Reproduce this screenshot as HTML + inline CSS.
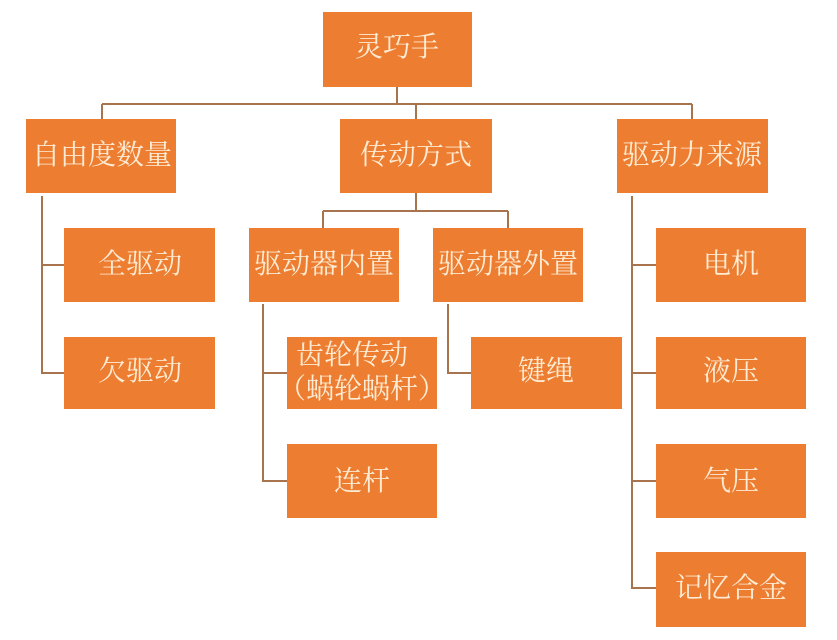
<!DOCTYPE html>
<html>
<head>
<meta charset="utf-8">
<style>
html,body{margin:0;padding:0;background:#fff;}
svg{display:block;}
text{font-family:"Liberation Serif","Noto Serif CJK SC","Noto Sans CJK SC",serif;font-size:28px;fill:#FDEBD3;text-anchor:middle;}
</style>
</head>
<body>
<svg width="837" height="640" viewBox="0 0 837 640" xmlns="http://www.w3.org/2000/svg">
<g stroke="#A8744E" stroke-width="2" fill="none">
  <!-- root to level1 -->
  <path d="M397 87 V104"/>
  <path d="M102 104 H692"/>
  <path d="M102 104 V119"/>
  <path d="M416 104 V119"/>
  <path d="M692 104 V119"/>
  <!-- left branch -->
  <path d="M42 196 V373 H64"/>
  <path d="M42 265 H64"/>
  <!-- middle branch -->
  <path d="M416 193 V211"/>
  <path d="M323 211 H508"/>
  <path d="M323 211 V228"/>
  <path d="M508 211 V228"/>
  <path d="M263 304 V481 H287"/>
  <path d="M263 373 H287"/>
  <path d="M448 304 V373 H471"/>
  <!-- right branch -->
  <path d="M632 196 V588 H656"/>
  <path d="M632 265 H656"/>
  <path d="M632 373 H656"/>
  <path d="M632 481 H656"/>
</g>
<g fill="#ED7D31">
  <rect x="323" y="12" width="149" height="75"/>
  <rect x="26" y="119" width="150" height="74"/>
  <rect x="340" y="119" width="152" height="74"/>
  <rect x="617" y="119" width="151" height="74"/>
  <rect x="64" y="228" width="151" height="74"/>
  <rect x="64" y="337" width="151" height="72"/>
  <rect x="249" y="228" width="150" height="74"/>
  <rect x="433" y="228" width="150" height="74"/>
  <rect x="287" y="337" width="150" height="72"/>
  <rect x="287" y="444" width="150" height="74"/>
  <rect x="471" y="337" width="151" height="72"/>
  <rect x="656" y="228" width="150" height="74"/>
  <rect x="656" y="337" width="150" height="72"/>
  <rect x="656" y="444" width="150" height="74"/>
  <rect x="656" y="552" width="150" height="75"/>
</g>
<text x="397" y="56">灵巧手</text>
<text x="102" y="164">自由度数量</text>
<text x="416" y="164">传动方式</text>
<text x="692" y="164">驱动力来源</text>
<text x="140" y="273">全驱动</text>
<text x="140" y="380">欠驱动</text>
<text x="324" y="273">驱动器内置</text>
<text x="508" y="273">驱动器外置</text>
<text x="352" y="364">齿轮传动</text>
<text x="362" y="398">（蜗轮蜗杆）</text>
<text x="362" y="490">连杆</text>
<text x="546" y="380">键绳</text>
<text x="731" y="273">电机</text>
<text x="731" y="380">液压</text>
<text x="731" y="490">气压</text>
<text x="731" y="597">记忆合金</text>
</svg>
</body>
</html>
